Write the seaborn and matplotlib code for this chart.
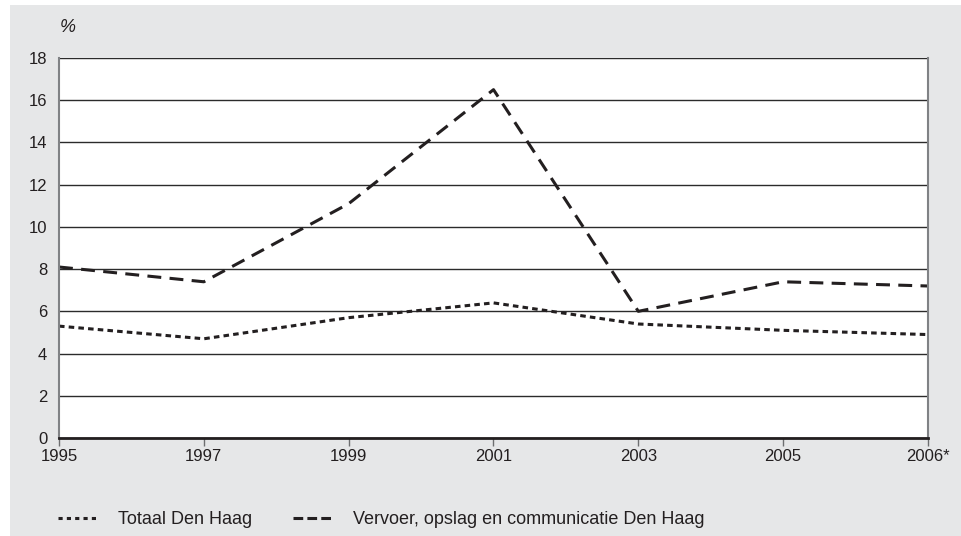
import pandas as pd
import matplotlib.pyplot as plt
import seaborn as sns
from matplotlib.lines import Line2D

# Data
years = ['1995', '1997', '1999', '2001', '2003', '2005', '2006*']
totaal = [5.3, 4.7, 5.7, 6.4, 5.4, 5.1, 4.9]
vervoer = [8.1, 7.4, 11.1, 16.5, 6.0, 7.4, 7.2]
series_names = ['Totaal Den Haag', 'Vervoer, opslag en communicatie Den Haag']

df = pd.DataFrame({
    'x': list(range(len(years))) * 2,
    'waarde': totaal + vervoer,
    'reeks': [series_names[0]] * len(years) + [series_names[1]] * len(years),
})

sns.set_style('white')
plt.rcParams['font.family'] = ['Liberation Sans', 'DejaVu Sans']
plt.rcParams['lines.scale_dashes'] = False

bg = '#e6e7e8'
txt = '#231f20'

fig = plt.figure(figsize=(9.62, 5.36), dpi=100, facecolor=bg)
ax = fig.add_axes([59 / 962, 98 / 536, 869 / 962, 380 / 536])
ax.set_facecolor('white')

# white strips at the top and left edge of the page
fig.patches.append(plt.Rectangle((0, 1 - 5 / 536), 1, 5 / 536, transform=fig.transFigure,
                                 facecolor='white', edgecolor='none'))
fig.patches.append(plt.Rectangle((0, 0), 10 / 962, 1, transform=fig.transFigure,
                                 facecolor='white', edgecolor='none'))

sns.lineplot(data=df, x='x', y='waarde', hue='reeks', style='reeks',
             palette=[txt, txt], dashes=[(4, 3), (10, 6)], linewidth=2.2,
             legend=False, ax=ax)

ax.set_xlim(0, len(years) - 1)
ax.set_ylim(0, 18)
ax.set_yticks(range(0, 19, 2))
ax.set_xticks(range(len(years)))
ax.set_xticklabels(years)
ax.tick_params(axis='x', length=6, width=1, color='#6d6e70', direction='out',
               labelsize=12, labelcolor=txt, pad=2, bottom=True)
ax.tick_params(axis='y', length=0, labelsize=12, labelcolor=txt, pad=8.5)
ax.grid(axis='y', color='#2b2b2b', linewidth=1)
ax.set_axisbelow(True)
ax.set_xlabel('')
ax.set_ylabel('')

for side in ['left', 'right']:
    ax.spines[side].set_color('#808285')
    ax.spines[side].set_linewidth(1.5)
ax.spines['top'].set_visible(False)
ax.spines['bottom'].set_color('#231f20')
ax.spines['bottom'].set_linewidth(2)

fig.text(60 / 962, 1 - 27 / 536, '%', fontsize=13, style='italic', color=txt,
         ha='left', va='center')

# legend at the bottom
handles = [
    Line2D([], [], color=txt, linewidth=2.2, dashes=(3, 3)),
    Line2D([], [], color=txt, linewidth=2.2, dashes=(7, 3)),
]
fig.legend(handles, series_names, loc='center left', bbox_to_anchor=(58 / 962, 16 / 536),
           ncol=2, frameon=False, handlelength=2.2, handletextpad=1.1,
           columnspacing=2.3, fontsize=13, labelcolor=txt,
           borderpad=0, borderaxespad=0)

fig.savefig('out.png', dpi=100, facecolor=bg)
